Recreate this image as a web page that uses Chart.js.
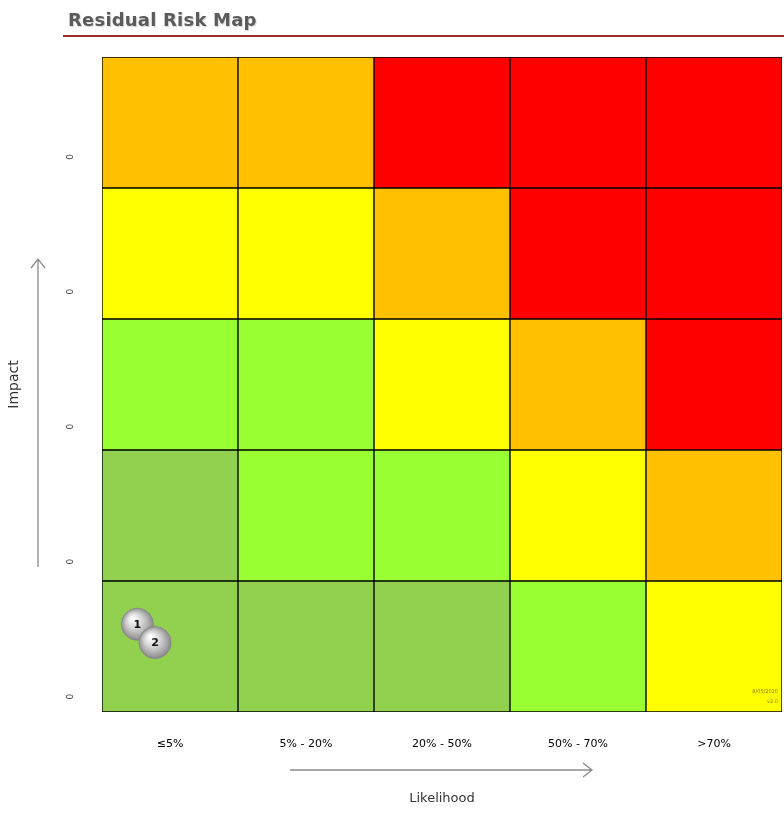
<!DOCTYPE html>
<html><head><meta charset="utf-8">
<script src="https://cdn.jsdelivr.net/npm/chart.js@4"></script>
<style>
html,body{margin:0;padding:0;background:#fff;}
#wrap{position:relative;width:784px;height:829px;overflow:hidden;}
#title{position:absolute;left:68px;top:9px;font:bold 18px "DejaVu Sans",sans-serif;color:#5b5b5b;text-shadow:1px 1px 1px rgba(0,0,0,0.18);letter-spacing:0.2px;}
#rule{position:absolute;left:63px;top:35px;width:721px;height:2px;background:#9b2b2e;}
canvas{position:absolute;left:0;top:0;}
</style></head><body>
<div id="wrap"><canvas id="c" width="784" height="829" style="width:784px;height:829px"></canvas><div id="title">Residual Risk Map</div><div id="rule"></div></div>
<script>
const likelihoodLabels = ['≤5%', '5% - 20%', '20% - 50%', '50% - 70%', '>70%'];
const impactLabels = ['0', '0', '0', '0', '0']; // bottom (lowest impact) to top
const ratingColors = { L: '#92D050', M: '#99FF33', H: '#FFFF00', V: '#FFC000', E: '#FF0000' };
// rows from lowest impact (bottom) to highest (top), columns by likelihood
const riskGrid = [
  ['L', 'L', 'L', 'M', 'H'],
  ['L', 'M', 'M', 'H', 'V'],
  ['M', 'M', 'H', 'V', 'E'],
  ['H', 'H', 'V', 'E', 'E'],
  ['V', 'V', 'E', 'E', 'E']
];
const riskIds = ['1', '2'];
const riskLikelihood = [0.26, 0.39];
const riskImpact = [0.67, 0.53];
const footnoteLines = ['8/05/2020', 'v2.0'];

const gridDatasets = riskGrid.map((row, r) => ({
  type: 'bar',
  data: row.map((k, c) => ({ x: c + 0.5, y: [r, r + 1] })),
  backgroundColor: row.map(k => ratingColors[k]),
  borderColor: '#000',
  borderWidth: 1,
  borderSkipped: false,
  barPercentage: 1,
  categoryPercentage: 1,
  grouped: false,
  order: 2
}));

const bubbleDataset = {
  type: 'bubble',
  data: riskIds.map((id, i) => ({ x: riskLikelihood[i], y: riskImpact[i] })),
  radius: 16,
  borderColor: '#8a8a8a',
  borderWidth: 1,
  backgroundColor: (ctx) => {
    const chart = ctx.chart;
    if (!ctx.raw || !chart.scales.x) return '#c8c8c8';
    const x = chart.scales.x.getPixelForValue(ctx.raw.x);
    const y = chart.scales.y.getPixelForValue(ctx.raw.y);
    if (!isFinite(x) || !isFinite(y)) return '#c8c8c8';
    const g = chart.ctx.createRadialGradient(x - 5, y - 6, 1, x, y, 17);
    g.addColorStop(0, '#ffffff');
    g.addColorStop(0.45, '#d2d2d2');
    g.addColorStop(0.85, '#9a9a9a');
    g.addColorStop(1, '#7a7a7a');
    return g;
  },
  order: 0
};

const decorPlugin = {
  id: 'decor',
  afterDatasetsDraw(chart) {
    const ctx = chart.ctx;
    const meta = chart.getDatasetMeta(gridDatasets.length);
    ctx.save();
    ctx.font = 'bold 11px "DejaVu Sans", sans-serif';
    ctx.fillStyle = '#111';
    ctx.textAlign = 'center';
    ctx.textBaseline = 'middle';
    meta.data.forEach((el, i) => ctx.fillText(riskIds[i], el.x, el.y + 1));
    const xs = chart.scales.x, ys = chart.scales.y;
    ctx.font = '5px "DejaVu Sans", sans-serif';
    ctx.fillStyle = '#8a7a00';
    ctx.textAlign = 'right';
    const fx = xs.getPixelForValue(5) - 4, fy = ys.getPixelForValue(0);
    ctx.fillText(footnoteLines[0], fx, fy - 20);
    ctx.fillText(footnoteLines[1], fx, fy - 10);
    ctx.restore();
  },
  afterDraw(chart) {
    const ctx = chart.ctx;
    ctx.save();
    ctx.strokeStyle = '#8c8c8c';
    ctx.lineWidth = 1.3;
    ctx.beginPath();
    ctx.moveTo(290, 770); ctx.lineTo(592, 770);
    ctx.moveTo(583, 763); ctx.lineTo(592, 770); ctx.lineTo(583, 777);
    ctx.stroke();
    ctx.beginPath();
    ctx.moveTo(38, 567); ctx.lineTo(38, 259);
    ctx.moveTo(31, 268); ctx.lineTo(38, 259); ctx.lineTo(45, 268);
    ctx.stroke();
    ctx.restore();
  }
};

new Chart(document.getElementById('c'), {
  data: { datasets: [...gridDatasets, bubbleDataset] },
  options: {
    responsive: false,
    animation: false,
    events: [],
    devicePixelRatio: 1,
    layout: { autoPadding: false, padding: { top: 57, right: 2, left: 0, bottom: 0 } },
    plugins: { legend: { display: false }, tooltip: { enabled: false } },
    scales: {
      x: {
        type: 'linear', min: 0, max: 5, offset: false,
        grid: { display: false, offset: false, tickLength: 24 }, border: { display: false },
        afterBuildTicks: (s) => { s.ticks = likelihoodLabels.map((l, i) => ({ value: i + 0.5 })); },
        afterFit: (s) => { s.height = 117; s.paddingLeft = 0; s.paddingRight = 0; },
        ticks: {
          autoSkip: false, maxRotation: 0, minRotation: 0, padding: 2,
          color: '#000', font: { size: 11, family: '"DejaVu Sans", sans-serif' },
          callback: (v) => likelihoodLabels[Math.round(v - 0.5)]
        },
        title: { display: true, text: 'Likelihood', color: '#333', font: { size: 13, family: '"DejaVu Sans", sans-serif' }, padding: { top: 0, bottom: 23 } }
      },
      y: {
        type: 'linear', min: 0, max: 5,
        grid: { display: false }, border: { display: false },
        afterBuildTicks: (s) => { s.ticks = impactLabels.map((l, i) => ({ value: 0.14 + i * 1.03 })); },
        afterFit: (s) => { s.width = 102; },
        ticks: {
          autoSkip: false, minRotation: 90, maxRotation: 90, padding: 23,
          color: '#333', font: { size: 9, family: '"DejaVu Sans", sans-serif' },
          callback: (v, i) => impactLabels[i]
        },
        title: { display: true, text: 'Impact', color: '#333', font: { size: 14, family: '"DejaVu Sans", sans-serif' }, padding: { top: 6, bottom: 0 } }
      }
    }
  },
  plugins: [decorPlugin]
});
</script>
</body></html>
